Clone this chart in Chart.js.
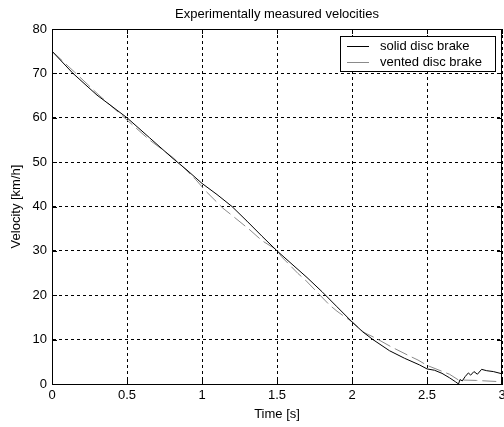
<!DOCTYPE html>
<html>
<head>
<meta charset="utf-8">
<script src="https://cdn.jsdelivr.net/npm/chart.js@4/dist/chart.umd.min.js"></script>
<style>
  html, body { margin: 0; padding: 0; background: #fff; }
  canvas { display: block; }
</style>
</head>
<body>
<canvas id="velChart" width="504" height="427"></canvas>
<script>
// ── DATA ──────────────────────────────────────────────────────────────────────
const chartTitle = 'Experimentally measured velocities';
const xTitle = 'Time [s]';
const yTitle = 'Velocity [km/h]';
const seriesNames = ['solid disc brake', 'vented disc brake'];

const solidTime = [0, 0.14, 0.3, 0.5, 0.65, 0.8, 0.9, 1.0, 1.1, 1.2, 1.3, 1.4, 1.5, 1.6, 1.7, 1.8, 1.9, 2.0,
  2.07, 2.14, 2.25, 2.35, 2.45, 2.5, 2.55, 2.6, 2.65, 2.69, 2.71, 2.72, 2.735, 2.755, 2.776, 2.791,
  2.813, 2.836, 2.864, 2.898, 2.942, 3.0];
const solidVel = [75, 70, 65.1, 60, 55.5, 51, 48.2, 45.2, 42.7, 40, 36.7, 33.3, 30, 27, 24, 20.8, 17.4, 14,
  11.8, 10, 7.5, 5.8, 4.3, 3.4, 3.1, 2.4, 1.4, 0.5, 0, 1.0, 0.7, 1.7, 2.5, 2.0,
  2.8, 2.2, 3.3, 3.0, 2.8, 2.3];

const ventedTime = [0, 0.15, 0.3, 0.5, 0.65, 0.8, 0.85, 0.96, 1.03, 1.14, 1.2, 1.32, 1.4, 1.5, 1.53, 1.64,
  1.69, 1.85, 1.9, 2.0, 2.08, 2.16, 2.26, 2.39, 2.44, 2.5, 2.56, 2.65, 2.71, 2.73, 2.83, 3.0];
const ventedVel = [75, 70.3, 65.5, 59.5, 55, 51.2, 49.7, 46, 43.3, 39.6, 38, 34.7, 32.3, 30.2, 28.7, 24.9,
  23.4, 17.8, 16.4, 14.0, 11.6, 10.3, 8.4, 6.2, 5.4, 4.2, 3.4, 2.2, 0.9, 0.9, 0.8, 0.5];

const xMin = 0, xMax = 3, xStep = 0.5;
const yMin = 0, yMax = 80, yStep = 10;

const FONT = 'Liberation Sans, Arial, sans-serif';
const solidColor = '#000000';
const ventedColor = '#8a8a8a';

const toPoints = (ts, vs) => ts.map((t, i) => ({ x: t, y: vs[i] }));

// ── FRAME, TITLE, LEGEND (matlab style) ───────────────────────────────────────
const matlabFrame = {
  id: 'matlabFrame',
  afterDraw(chart) {
    const { ctx, chartArea: a, scales } = chart;
    ctx.save();
    ctx.strokeStyle = '#000';
    ctx.lineWidth = 1;
    ctx.setLineDash([]);
    // box
    ctx.strokeRect(Math.round(a.left) + 0.5, Math.round(a.top) + 0.5,
      Math.round(a.right - a.left) - 1, Math.round(a.bottom - a.top));
    // inward ticks
    const tl = 5;
    ctx.beginPath();
    scales.x.ticks.forEach(t => {
      const px = Math.round(scales.x.getPixelForValue(t.value)) + 0.5;
      ctx.moveTo(px, a.bottom); ctx.lineTo(px, a.bottom - tl);
      ctx.moveTo(px, a.top); ctx.lineTo(px, a.top + tl);
    });
    scales.y.ticks.forEach(t => {
      const py = Math.round(scales.y.getPixelForValue(t.value)) + 0.5;
      ctx.moveTo(a.left, py); ctx.lineTo(a.left + tl, py);
      ctx.moveTo(a.right, py); ctx.lineTo(a.right - tl, py);
    });
    ctx.stroke();

    // title
    ctx.fillStyle = '#000';
    ctx.font = '13px ' + FONT;
    ctx.textAlign = 'center';
    ctx.textBaseline = 'middle';
    ctx.fillText(chartTitle, (a.left + a.right) / 2, 14);

    // legend box
    const bx = 340.5, by = 36.5, bw = 155, bh = 35;
    ctx.fillStyle = '#fff';
    ctx.fillRect(bx, by, bw, bh);
    ctx.strokeRect(bx, by, bw, bh);
    const rows = [
      { name: seriesNames[0], color: solidColor, y: 46 },
      { name: seriesNames[1], color: ventedColor, y: 62 }
    ];
    ctx.textAlign = 'left';
    rows.forEach(r => {
      ctx.strokeStyle = r.color;
      ctx.beginPath();
      ctx.moveTo(347, r.y + 0.5); ctx.lineTo(369, r.y + 0.5);
      ctx.stroke();
      ctx.fillStyle = '#000';
      ctx.fillText(r.name, 380, r.y);
    });
    ctx.restore();
  }
};

// ── CHART ─────────────────────────────────────────────────────────────────────
new Chart(document.getElementById('velChart').getContext('2d'), {
  type: 'line',
  data: {
    datasets: [
      {
        label: seriesNames[0],
        data: toPoints(solidTime, solidVel),
        borderColor: solidColor,
        borderWidth: 1,
        pointRadius: 0,
        tension: 0,
        fill: false
      },
      {
        label: seriesNames[1],
        data: toPoints(ventedTime, ventedVel),
        borderColor: ventedColor,
        borderWidth: 1,
        borderDash: [14, 5],
        pointRadius: 0,
        tension: 0,
        fill: false
      }
    ]
  },
  options: {
    responsive: false,
    animation: false,
    layout: { padding: { top: 29, right: 2, left: 0, bottom: 0 } },
    plugins: { legend: { display: false }, title: { display: false }, tooltip: { enabled: false } },
    scales: {
      x: {
        type: 'linear', min: xMin, max: xMax,
        ticks: { stepSize: xStep, color: '#000', font: { family: FONT, size: 13 }, padding: 4, maxRotation: 0,
          callback: v => String(v) },
        grid: { color: '#000', lineWidth: 1, drawTicks: false },
        border: { display: true, color: '#000', width: 1, dash: [3, 3] },
        title: { display: true, text: xTitle, color: '#000', font: { family: FONT, size: 13 }, padding: { top: 0, bottom: 5 } },
        afterFit: s => { s.height = 43; s.paddingLeft = 0; s.paddingRight = 0; }
      },
      y: {
        type: 'linear', min: yMin, max: yMax,
        ticks: { stepSize: yStep, color: '#000', font: { family: FONT, size: 13 }, padding: 5,
          callback: v => String(v) },
        grid: { color: '#000', lineWidth: 1, drawTicks: false },
        border: { display: true, color: '#000', width: 1, dash: [3, 3] },
        title: { display: true, text: yTitle, color: '#000', font: { family: FONT, size: 13 }, padding: { top: 9, bottom: 0 } },
        afterFit: s => { s.width = 52; s.paddingTop = 0; s.paddingBottom = 0; }
      }
    }
  },
  plugins: [matlabFrame]
});
</script>
</body>
</html>
